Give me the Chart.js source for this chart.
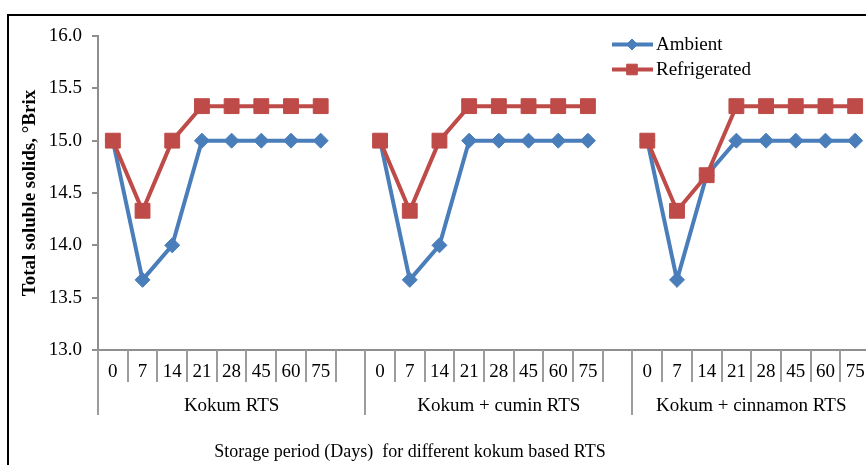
<!DOCTYPE html>
<html>
<head>
<meta charset="utf-8">
<script src="https://cdn.jsdelivr.net/npm/chart.js@4/dist/chart.umd.min.js"></script>
<style>
  html, body { margin: 0; padding: 0; background: #fff; }
  #wrap { position: relative; width: 866px; height: 465px; overflow: hidden; background: #fff; }
  #frame { position: absolute; left: 7px; top: 14px; width: 900px; height: 500px;
           border-top: 2px solid #000; border-left: 2px solid #000; box-sizing: border-box; }
  #c { position: absolute; left: 0; top: 0; }
</style>
</head>
<body>
<div id="wrap">
  <div id="frame"></div>
  <canvas id="c" width="870" height="465"></canvas>
</div>
<script>
// Storage days sampled for every drink
const days = ['0', '7', '14', '21', '28', '45', '60', '75'];
// Drink groups along the axis
const groups = ['Kokum RTS', 'Kokum + cumin RTS', 'Kokum + cinnamon RTS'];
// Total soluble solids (°Brix), one row per group
const ambient = [
  [15.0, 13.67, 14.0, 15.0, 15.0, 15.0, 15.0, 15.0],
  [15.0, 13.67, 14.0, 15.0, 15.0, 15.0, 15.0, 15.0],
  [15.0, 13.67, 14.67, 15.0, 15.0, 15.0, 15.0, 15.0]
];
const refrigerated = [
  [15.0, 14.33, 15.0, 15.33, 15.33, 15.33, 15.33, 15.33],
  [15.0, 14.33, 15.0, 15.33, 15.33, 15.33, 15.33, 15.33],
  [15.0, 14.33, 14.67, 15.33, 15.33, 15.33, 15.33, 15.33]
];
const yTicks = { min: 13.0, max: 16.0, step: 0.5 };

const FONT = '"Liberation Serif", "Times New Roman", serif';
const BLUE = '#4A7EBB';
const RED = '#BE4B48';
const GRID = '#8E8E8E';
const SEP = '#9C9C9C';

// Flatten groups into one category axis with an empty slot between groups
const labels = [];
const flat = rows => {
  const out = [];
  rows.forEach((r, g) => {
    r.forEach(v => out.push(v));
    if (g < rows.length - 1) out.push(null);
  });
  return out;
};
groups.forEach((g, gi) => {
  days.forEach(d => labels.push(d));
  if (gi < groups.length - 1) labels.push('');
});
const groupSize = days.length + 1;

// Hierarchical x axis, axis title and in-plot legend
const decorations = {
  id: 'decorations',
  afterDraw(chart) {
    const ctx = chart.ctx;
    const xs = chart.scales.x;
    const area = chart.chartArea;
    const step = xs.getPixelForValue(1) - xs.getPixelForValue(0);
    const base = area.bottom;
    ctx.save();

    // axis line
    ctx.strokeStyle = GRID;
    ctx.lineWidth = 2;
    ctx.beginPath();
    ctx.moveTo(area.left, base);
    ctx.lineTo(area.right, base);
    ctx.stroke();

    // category separators
    ctx.strokeStyle = SEP;
    for (let b = 0; b < labels.length; b++) {
      const px = Math.round(xs.getPixelForValue(b) - step / 2);
      const long = b % groupSize === 0;
      ctx.beginPath();
      ctx.moveTo(px, base);
      ctx.lineTo(px, base + (long ? 65 : 32));
      ctx.stroke();
    }

    // day labels
    ctx.fillStyle = '#000';
    ctx.font = '19px ' + FONT;
    ctx.textAlign = 'center';
    ctx.textBaseline = 'middle';
    labels.forEach((l, i) => {
      if (l !== '') ctx.fillText(l, xs.getPixelForValue(i), base + 22);
    });

    // group labels
    groups.forEach((g, gi) => {
      const start = xs.getPixelForValue(gi * groupSize) - step / 2;
      const end = Math.min(area.right, xs.getPixelForValue(gi * groupSize + groupSize - 1) + step / 2);
      ctx.fillText(g, (start + end) / 2, base + 56);
    });

    // axis title
    ctx.font = '18px ' + FONT;
    ctx.fillText('Storage period (Days)  for different kokum based RTS', 410, base + 102);

    // legend
    ctx.font = '19px ' + FONT;
    const legendRadius = { rectRot: 5.5, rect: 7.5 };
    chart.data.datasets.forEach((ds, i) => {
      const y = 44.5 + i * 25;
      ctx.strokeStyle = ds.borderColor;
      ctx.lineWidth = ds.borderWidth;
      ctx.beginPath();
      ctx.moveTo(612, y);
      ctx.lineTo(653, y);
      ctx.stroke();
      ctx.fillStyle = ds.pointBackgroundColor;
      ctx.strokeStyle = ds.pointBorderColor;
      ctx.lineWidth = 1;
      Chart.helpers.drawPoint(ctx, {
        pointStyle: ds.pointStyle, radius: legendRadius[ds.pointStyle], rotation: 0, borderWidth: 1
      }, 632, y);
      ctx.fillStyle = '#000';
      ctx.textAlign = 'left';
      ctx.fillText(ds.label, 656, y + 1);
    });
    ctx.restore();
  }
};

new Chart(document.getElementById('c'), {
  type: 'line',
  data: {
    labels: labels,
    datasets: [
      {
        label: 'Ambient',
        data: flat(ambient),
        order: 1,
        borderColor: BLUE,
        backgroundColor: BLUE,
        borderWidth: 4,
        pointStyle: 'rectRot',
        pointRadius: 7.5,
        pointBackgroundColor: BLUE,
        pointBorderColor: BLUE,
        pointBorderWidth: 1,
        spanGaps: false,
        tension: 0
      },
      {
        label: 'Refrigerated',
        data: flat(refrigerated),
        order: 0,
        borderColor: RED,
        backgroundColor: RED,
        borderWidth: 4,
        pointStyle: 'rect',
        pointRadius: 10.5,
        pointBackgroundColor: RED,
        pointBorderColor: RED,
        pointBorderWidth: 1,
        spanGaps: false,
        tension: 0
      }
    ]
  },
  options: {
    responsive: false,
    animation: false,
    layout: { autoPadding: false, padding: { top: 36, bottom: 115, left: 0, right: 0 } },
    plugins: { legend: { display: false }, tooltip: { enabled: false } },
    scales: {
      x: { type: 'category', offset: true, display: false },
      y: {
        min: yTicks.min,
        max: yTicks.max,
        afterFit(scale) { scale.width = 98; },
        ticks: {
          stepSize: yTicks.step,
          callback: v => Number(v).toFixed(1),
          color: '#000',
          font: { family: FONT, size: 19 },
          padding: 10
        },
        grid: { drawOnChartArea: false, tickLength: 6, color: GRID, lineWidth: 2 },
        border: { color: GRID, width: 2 },
        title: {
          display: true,
          text: 'Total soluble solids, °Brix',
          color: '#000',
          font: { family: FONT, size: 19, weight: 'bold' },
          padding: { top: 19, bottom: 0 }
        }
      }
    }
  },
  plugins: [decorations]
});
</script>
</body>
</html>
